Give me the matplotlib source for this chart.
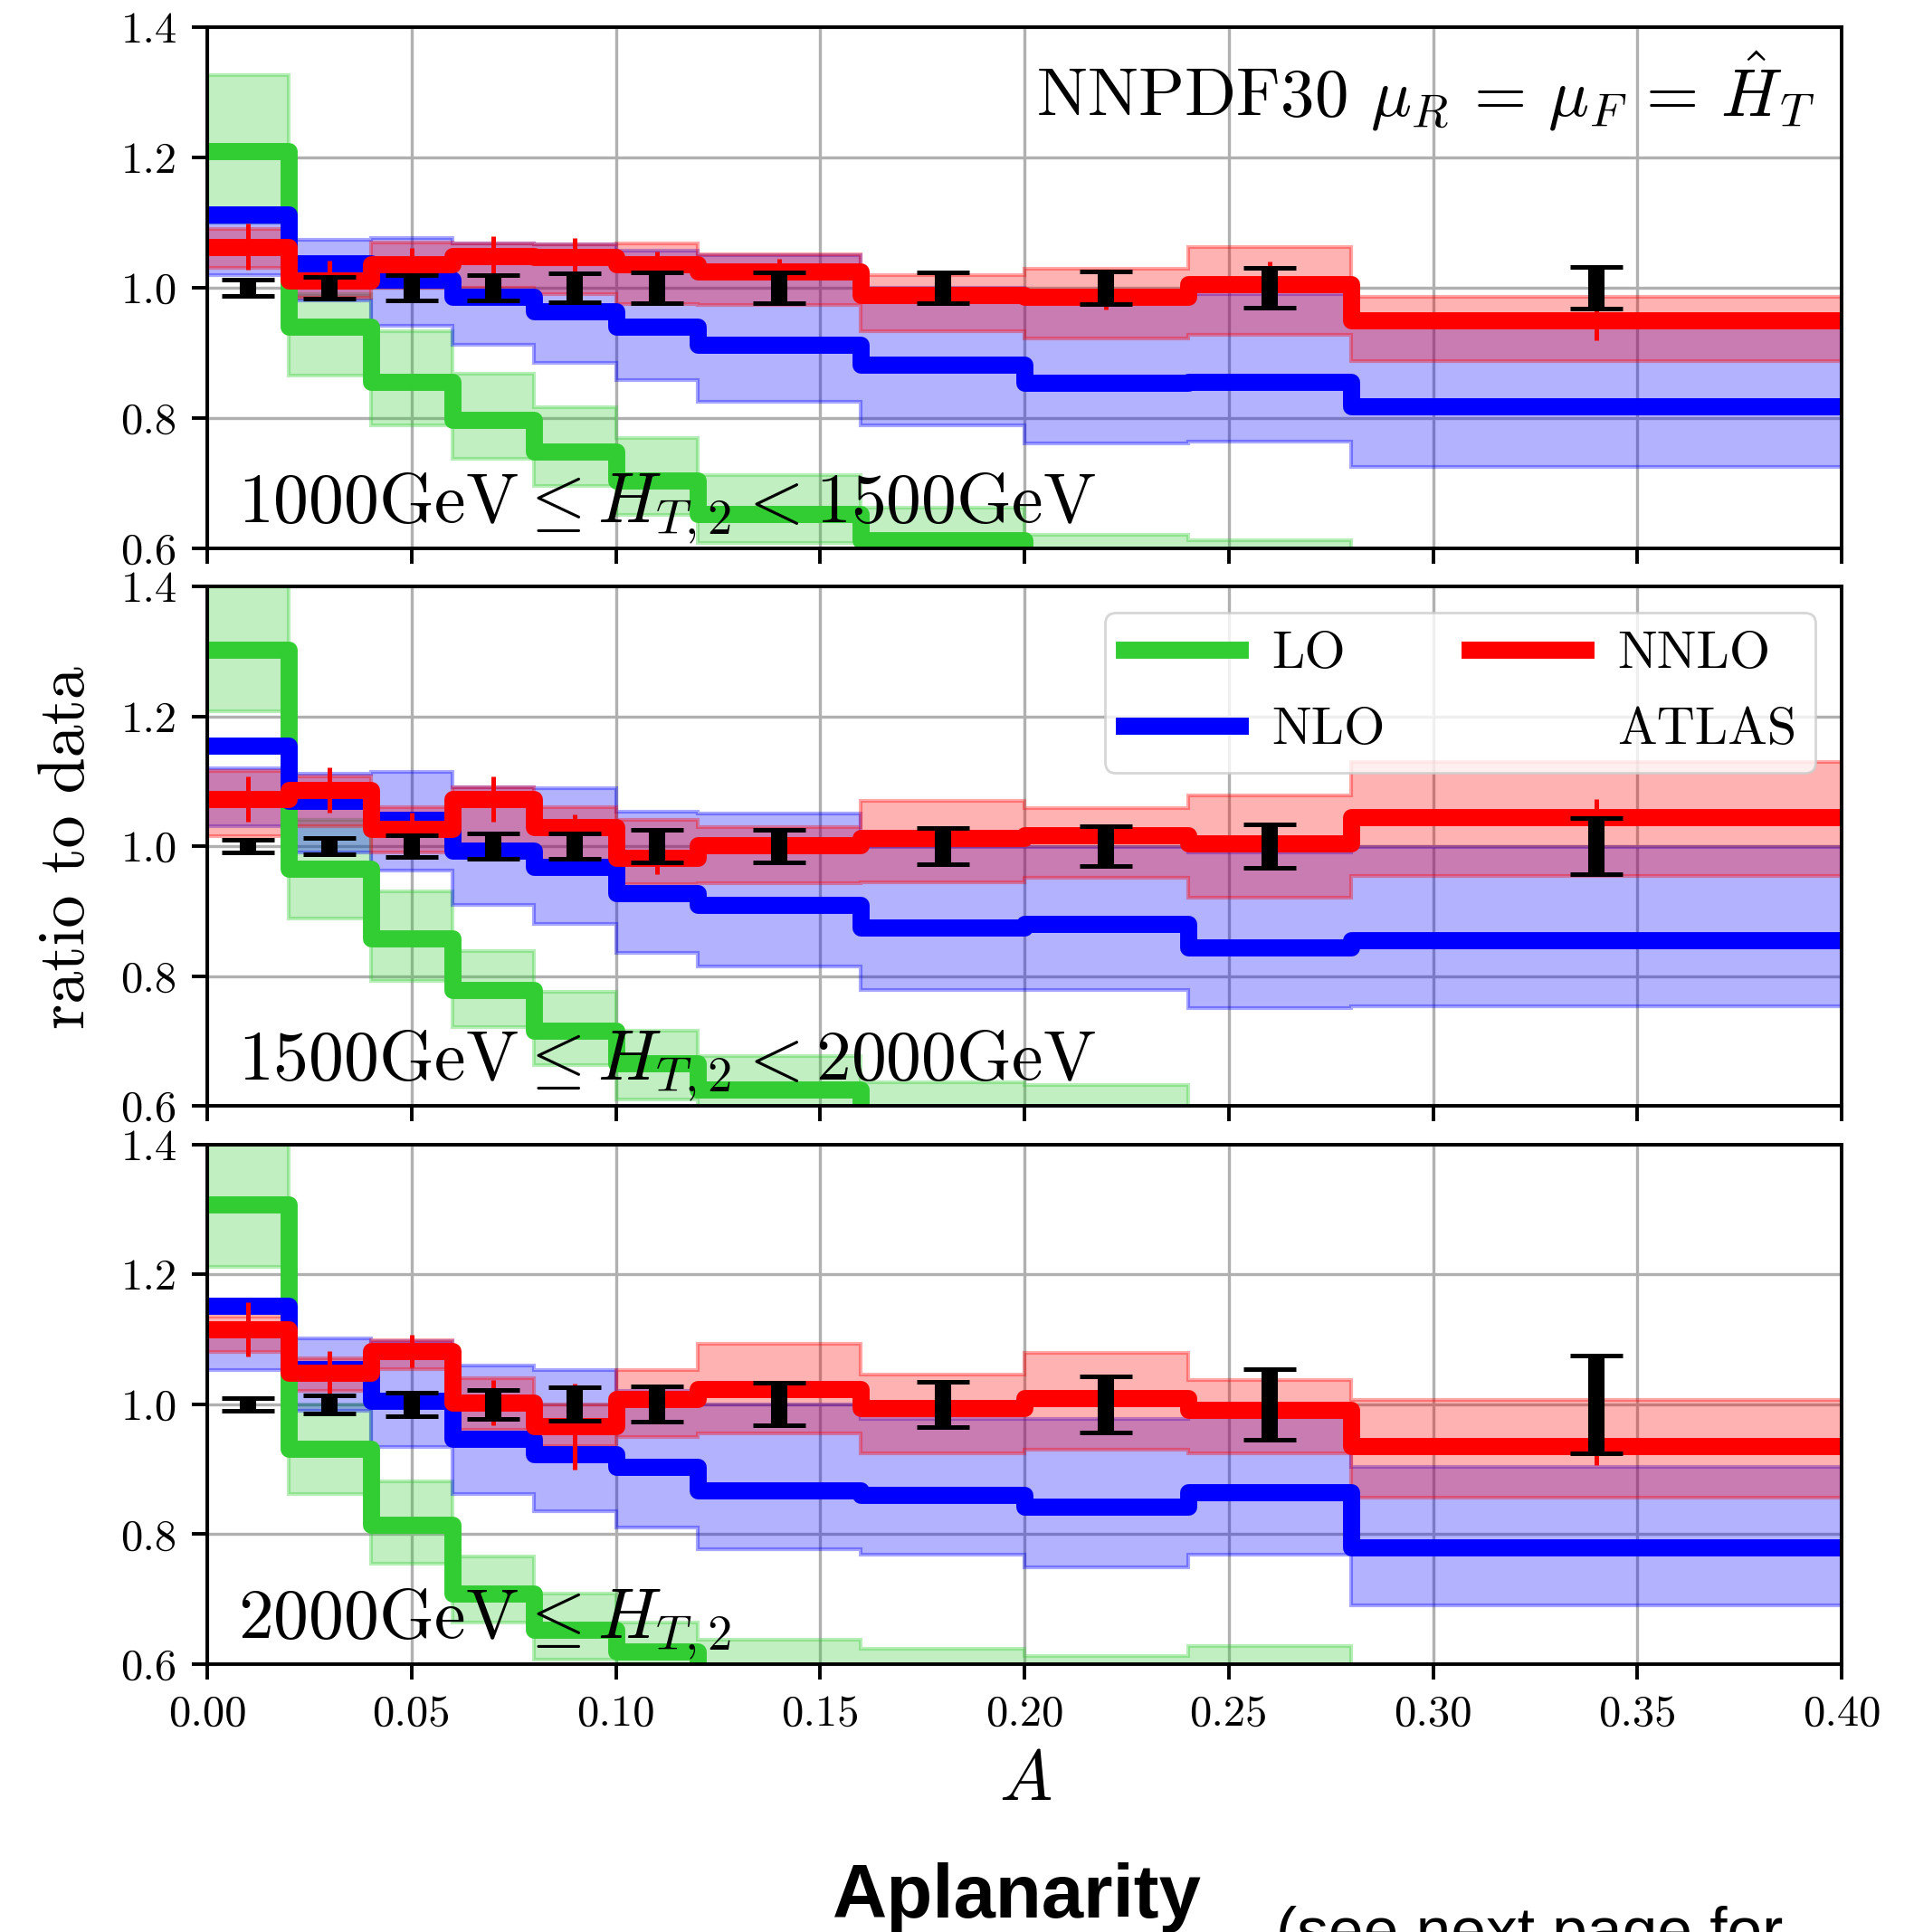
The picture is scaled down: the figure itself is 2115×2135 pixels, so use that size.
import matplotlib
matplotlib.use("Agg")
import matplotlib.pyplot as plt
from matplotlib.lines import Line2D

plt.rcParams["font.family"] = "serif"
plt.rcParams["font.serif"] = ["cmr10"]
plt.rcParams["mathtext.fontset"] = "cm"
plt.rcParams["axes.formatter.use_mathtext"] = True

# bins in aplanarity A
edges = [0.0, 0.02, 0.04, 0.06, 0.08, 0.10, 0.12, 0.16, 0.20, 0.24, 0.28, 0.40]
centers = [0.01, 0.03, 0.05, 0.07, 0.09, 0.11, 0.14, 0.18, 0.22, 0.26, 0.34]
atlas = [1.0, 1.0, 1.0, 1.0, 1.0, 1.0, 1.0, 1.0, 1.0, 1.0, 1.0]

panel_labels = [
    r"$1000\mathrm{GeV} \leq H_{T,2} < 1500\mathrm{GeV}$",
    r"$1500\mathrm{GeV} \leq H_{T,2} < 2000\mathrm{GeV}$",
    r"$2000\mathrm{GeV} \leq H_{T,2}$",
]

# --- 1000 <= HT2 < 1500
lo_1 = [1.21, 0.94, 0.855, 0.797, 0.748, 0.704, 0.653, 0.612, 0.56, 0.55, 0.52]
lo_1_dn = [1.10, 0.865, 0.789, 0.737, 0.696, 0.652, 0.608, 0.57, 0.53, 0.52, 0.49]
lo_1_up = [1.326, 0.99, 0.934, 0.868, 0.816, 0.77, 0.712, 0.662, 0.621, 0.612, 0.58]
nlo_1 = [1.112, 1.038, 1.012, 0.986, 0.964, 0.94, 0.912, 0.882, 0.854, 0.855, 0.818]
nlo_1_dn = [1.02, 0.98, 0.942, 0.912, 0.885, 0.858, 0.825, 0.789, 0.761, 0.764, 0.725]
nlo_1_up = [1.10, 1.074, 1.077, 1.068, 1.066, 1.057, 1.05, 1.0, 0.99, 0.99, 0.955]
nnlo_1 = [1.063, 1.011, 1.036, 1.049, 1.047, 1.036, 1.025, 0.989, 0.986, 1.005, 0.95]
nnlo_1_dn = [1.03, 0.985, 1.0, 1.0, 0.99, 0.975, 0.973, 0.934, 0.922, 0.928, 0.887]
nnlo_1_up = [1.09, 1.04, 1.07, 1.068, 1.066, 1.068, 1.052, 1.019, 1.029, 1.063, 0.986]
nnlo_1_err = [0.035, 0.03, 0.025, 0.03, 0.03, 0.02, 0.02, 0.015, 0.02, 0.035, 0.03]
atlas_1_err = [0.012, 0.016, 0.019, 0.02, 0.022, 0.023, 0.024, 0.024, 0.025, 0.03, 0.032]

# --- 1500 <= HT2 < 2000
lo_2 = [1.303, 0.965, 0.858, 0.779, 0.716, 0.666, 0.625, 0.57, 0.55, 0.54, 0.52]
lo_2_dn = [1.207, 0.888, 0.792, 0.721, 0.663, 0.61, 0.58, 0.55, 0.53, 0.50, 0.48]
lo_2_up = [1.45, 1.04, 0.93, 0.839, 0.776, 0.715, 0.677, 0.636, 0.632, 0.59, 0.57]
nlo_2 = [1.155, 1.07, 1.04, 0.993, 0.968, 0.927, 0.91, 0.875, 0.88, 0.844, 0.855]
nlo_2_dn = [1.03, 0.99, 0.963, 0.91, 0.88, 0.836, 0.814, 0.779, 0.778, 0.751, 0.754]
nlo_2_up = [1.12, 1.111, 1.114, 1.09, 1.089, 1.053, 1.05, 0.998, 0.998, 0.99, 0.998]
nnlo_2 = [1.073, 1.086, 1.026, 1.073, 1.029, 0.982, 1.001, 1.012, 1.017, 1.004, 1.045]
nnlo_2_dn = [1.015, 1.03, 0.99, 1.0, 0.97, 0.941, 0.943, 0.944, 0.951, 0.921, 0.954]
nnlo_2_up = [1.115, 1.108, 1.06, 1.09, 1.06, 1.04, 1.029, 1.07, 1.059, 1.078, 1.13]
nnlo_2_err = [0.035, 0.035, 0.025, 0.035, 0.02, 0.025, 0.01, 0.01, 0.012, 0.01, 0.028]
atlas_2_err = [0.01, 0.013, 0.017, 0.02, 0.02, 0.025, 0.025, 0.028, 0.03, 0.034, 0.043]

# --- 2000 <= HT2
lo_3 = [1.307, 0.931, 0.815, 0.708, 0.653, 0.62, 0.56, 0.55, 0.54, 0.54, 0.50]
lo_3_dn = [1.211, 0.862, 0.755, 0.664, 0.607, 0.57, 0.53, 0.52, 0.51, 0.51, 0.47]
lo_3_up = [1.45, 1.0, 0.881, 0.766, 0.708, 0.664, 0.637, 0.623, 0.612, 0.628, 0.58]
nlo_3 = [1.151, 1.054, 1.005, 0.947, 0.923, 0.903, 0.868, 0.86, 0.842, 0.865, 0.779]
nlo_3_dn = [1.052, 0.99, 0.934, 0.862, 0.835, 0.81, 0.777, 0.769, 0.749, 0.769, 0.691]
nlo_3_up = [1.12, 1.101, 1.097, 1.06, 1.052, 1.02, 1.0, 0.977, 0.977, 0.98, 0.903]
nnlo_3 = [1.115, 1.049, 1.082, 1.002, 0.966, 1.008, 1.024, 0.994, 1.01, 0.991, 0.936]
nnlo_3_dn = [1.08, 1.02, 1.054, 0.96, 0.936, 0.95, 0.955, 0.925, 0.93, 0.925, 0.856]
nnlo_3_up = [1.135, 1.07, 1.098, 1.04, 1.0, 1.052, 1.093, 1.046, 1.079, 1.037, 1.007]
nnlo_3_err = [0.042, 0.033, 0.025, 0.035, 0.066, 0.02, 0.01, 0.01, 0.01, 0.01, 0.03]
atlas_3_err = [0.01, 0.014, 0.018, 0.022, 0.026, 0.027, 0.033, 0.035, 0.043, 0.054, 0.075]

panels = [
    (lo_1, lo_1_dn, lo_1_up, nlo_1, nlo_1_dn, nlo_1_up, nnlo_1, nnlo_1_dn, nnlo_1_up, nnlo_1_err, atlas_1_err),
    (lo_2, lo_2_dn, lo_2_up, nlo_2, nlo_2_dn, nlo_2_up, nnlo_2, nnlo_2_dn, nnlo_2_up, nnlo_2_err, atlas_2_err),
    (lo_3, lo_3_dn, lo_3_up, nlo_3, nlo_3_dn, nlo_3_up, nnlo_3, nnlo_3_dn, nnlo_3_up, nnlo_3_err, atlas_3_err),
]

colors = {"LO": "limegreen", "NLO": "blue", "NNLO": "red"}
LW = 6.8

W, H = 2115, 2135
fig = plt.figure(figsize=(W / 200, H / 200), dpi=200)

# axes boxes in pixels (top, bottom)
boxes = [(30, 606), (648, 1222), (1264.5, 1839)]
left, right = 229, 2035

axes = []
for i, (top, bot) in enumerate(boxes):
    ax = fig.add_axes([left / W, 1 - bot / H, (right - left) / W, (bot - top) / H])
    axes.append(ax)
    lo, lo_dn, lo_up, nlo, nlo_dn, nlo_up, nnlo, nnlo_dn, nnlo_up, nnlo_err, atlas_err = panels[i]

    # scale-variation bands
    for (dn, up, name) in [(lo_dn, lo_up, "LO"), (nlo_dn, nlo_up, "NLO"), (nnlo_dn, nnlo_up, "NNLO")]:
        c = matplotlib.colors.to_rgb(colors[name])
        ax.stairs(up, edges, baseline=dn, fill=True, facecolor=c + (0.3,),
                  edgecolor=c + (0.35,), lw=1.5, zorder=1)

    # central predictions
    for vals, name, z in [(lo, "LO", 2), (nlo, "NLO", 2.1), (nnlo, "NNLO", 2.2)]:
        ax.stairs(vals, edges, baseline=None, color=colors[name], lw=LW,
                  joinstyle="round", zorder=z)

    ax.errorbar(centers, nnlo, yerr=nnlo_err, fmt="none", ecolor="red",
                elinewidth=1.8, capsize=0, zorder=3)
    ax.errorbar(centers, atlas, yerr=atlas_err, fmt="none", ecolor="black",
                elinewidth=6.5, capsize=10.5, capthick=1.8, zorder=4)

    ax.set_xlim(0, 0.4)
    ax.set_ylim(0.6, 1.4)
    ax.set_xticks([0.0, 0.05, 0.10, 0.15, 0.20, 0.25, 0.30, 0.35, 0.40])
    ax.set_yticks([0.6, 0.8, 1.0, 1.2, 1.4])
    ax.set_yticklabels(["0.6", "0.8", "1.0", "1.2", "1.4"])
    if i < 2:
        ax.set_xticklabels([])
    else:
        ax.set_xticklabels(["0.00", "0.05", "0.10", "0.15", "0.20", "0.25", "0.30", "0.35", "0.40"])
    ax.set_axisbelow(True)
    ax.grid(True, color="#b0b0b0", lw=1.2)
    ax.tick_params(direction="out", length=6, width=1.4, labelsize=17.5, pad=6)
    for s in ax.spines.values():
        s.set_linewidth(1.4)

    ax.text(0.019, 0.05, panel_labels[i], transform=ax.transAxes, fontsize=28,
            ha="left", va="baseline", zorder=6)

axes[0].text(0.984, 0.829, r"NNPDF30 $\mu_R\, =\, \mu_F\, =\, \hat{H}_T$",
             transform=axes[0].transAxes, fontsize=27, ha="right", va="baseline")

handles = [
    Line2D([], [], color=colors["LO"], lw=LW),
    Line2D([], [], color=colors["NLO"], lw=LW),
    Line2D([], [], color=colors["NNLO"], lw=LW),
    Line2D([], [], linestyle="none"),
]
axes[1].legend(handles, ["LO", "NLO", "NNLO", "ATLAS"], ncol=2, loc="upper right",
               fontsize=21, handlelength=2.2, handletextpad=0.6, columnspacing=1.6,
               borderpad=0.35, labelspacing=0.55)

fig.text(75 / W, 1 - 937 / H, "ratio to data", rotation=90, fontsize=26,
         ha="center", va="center")
fig.text(1133 / W, 1 - 1989 / H, r"$A$", fontsize=28, ha="center", va="baseline")
fig.text(1124 / W, 1 - 2119 / H, "Aplanarity", fontsize=30, fontweight="bold",
         family="Liberation Sans", ha="center", va="baseline")
# this caption runs off the bottom edge in the original page crop
fig.text(1410 / W, 1 - 2156 / H, "(see next page for", fontsize=25,
         family="Liberation Sans", ha="left", va="baseline")

fig.savefig("out.png", dpi=200)
